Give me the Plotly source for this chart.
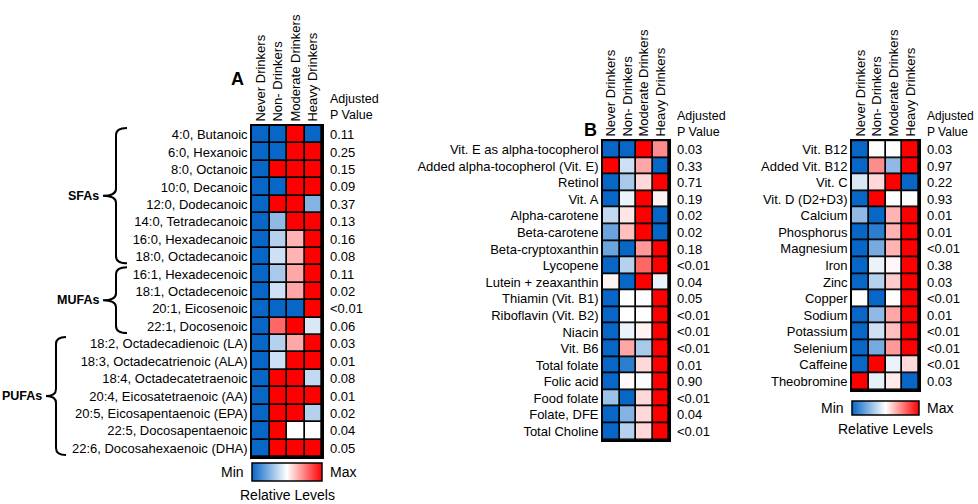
import plotly.graph_objects as go

W, H = 978, 504
FONT = "Arial, Liberation Sans, sans-serif"

groups = ["Never Drinkers", "Non- Drinkers", "Moderate Drinkers", "Heavy Drinkers"]

# ---- Panel A: fatty acids ----
fa_labels = ["4:0, Butanoic", "6:0, Hexanoic", "8:0, Octanoic", "10:0, Decanoic",
             "12:0, Dodecanoic", "14:0, Tetradecanoic", "16:0, Hexadecanoic",
             "18:0, Octadecanoic", "16:1, Hexadecenoic", "18:1, Octadecenoic",
             "20:1, Eicosenoic", "22:1, Docosenoic", "18:2, Octadecadienoic (LA)",
             "18:3, Octadecatrienoic (ALA)", "18:4, Octadecatetraenoic",
             "20:4, Eicosatetraenoic (AA)", "20:5, Eicosapentaenoic (EPA)",
             "22:5, Docosapentaenoic", "22:6, Docosahexaenoic (DHA)"]
fa_values = [
    [-1, -1, 1, -1], [-1, -1, 1, 1], [-1, 1, 1, 1], [-1, -1, 1, 1],
    [-1, 1, 1, -0.5], [-1, -0.45, 1, 1], [-1, -0.3, 0.3, 1], [-1, -0.2, 0.3, 1],
    [-1, -0.35, 0.35, 1], [-1, -0.2, 0.35, 1], [-1, -1, -1, 1], [-1, 0.6, 1, -0.15],
    [-1, -0.3, 0.35, 1], [-1, -0.2, 1, 1], [-1, 1, 1, -0.25], [-1, 1, 1, 1],
    [-1, 1, 1, -0.3], [-1, 1, 0, 0], [-1, 1, 1, 1]]
fa_pvals = ["0.11", "0.25", "0.15", "0.09", "0.37", "0.13", "0.16", "0.08", "0.11",
            "0.02", "<0.01", "0.06", "0.03", "0.01", "0.08", "0.01", "0.02", "0.04", "0.05"]
fa_groups = [("SFAs", 0, 7), ("MUFAs", 8, 11), ("PUFAs", 12, 18)]

# ---- Panel B left: vitamins ----
vit_labels = ["Vit. E as alpha-tocopherol", "Added alpha-tocopherol (Vit. E)", "Retinol",
              "Vit. A", "Alpha-carotene", "Beta-carotene", "Beta-cryptoxanthin", "Lycopene",
              "Lutein + zeaxanthin", "Thiamin (Vit. B1)", "Riboflavin (Vit. B2)", "Niacin",
              "Vit. B6", "Total folate", "Folic acid", "Food folate", "Folate, DFE",
              "Total Choline"]
vit_values = [
    [-1, -1, 1, 0.45], [1, -0.2, 0.35, -1], [-1, -0.35, 0.15, 1], [-1, -0.08, 1, 0.05],
    [-0.25, 0.1, 1, -1], [-0.6, 0.25, 1, -1], [-0.6, -1, 0.4, 1], [-1, -0.3, 0.6, 1],
    [0.05, -1, 1, -0.08], [-1, 0, 0, 1], [-1, 0, 0, 1], [-1, -0.08, 0.05, 1],
    [-1, 0.35, -0.35, 1], [-1, -0.85, 0.15, 1], [-1, 0.02, -0.02, 1], [-0.4, -1, 0.15, 1],
    [-1, -0.5, 0.15, 1], [-1, -0.3, 0.15, 1]]
vit_pvals = ["0.03", "0.33", "0.71", "0.19", "0.02", "0.02", "0.18", "<0.01", "0.04",
             "0.05", "<0.01", "<0.01", "<0.01", "0.01", "0.90", "<0.01", "0.04", "<0.01"]

# ---- Panel B right: other nutrients ----
oth_labels = ["Vit. B12", "Added Vit. B12", "Vit. C", "Vit. D (D2+D3)", "Calcium",
              "Phosphorus", "Magnesium", "Iron", "Zinc", "Copper", "Sodium", "Potassium",
              "Selenium", "Caffeine", "Theobromine"]
oth_values = [
    [-1, 0, 0, 1], [-1, 0.45, -0.45, 1], [-0.15, 0.15, 1, -1], [-1, 1, 0, 0],
    [-0.45, -1, 0.3, 1], [-1, -0.85, 0.3, 1], [-1, -0.55, 0.3, 1], [-1, -0.08, 0.03, 1],
    [-1, -0.3, 0.2, 1], [0, -1, 0, 1], [-1, -0.45, 0.35, 1], [-1, -0.2, 0.25, 1],
    [-1, -0.55, 0.4, 1], [-1, 1, -0.08, 0.15], [1, -0.1, 0.08, -1]]
oth_pvals = ["0.03", "0.97", "0.22", "0.93", "0.01", "0.01", "<0.01", "0.38", "0.03",
             "<0.01", "0.01", "<0.01", "<0.01", "<0.01", "0.03"]

COLORSCALE = [[0, "#0866C6"], [0.5, "#FFFFFF"], [1, "#FF0000"]]

# panel geometry in pixels (x0, x1, y0, y1)
PANELS = [
    dict(labels=fa_labels, values=fa_values, pvals=fa_pvals, box=(252, 322, 126, 457),
         cbar=dict(y=463, thick=18), ph_shift=3, ph_size=12.5),
    dict(labels=vit_labels, values=vit_values, pvals=vit_pvals, box=(603, 669, 141, 440),
         cbar=None, ph_shift=1, ph_size=12.5),
    dict(labels=oth_labels, values=oth_values, pvals=oth_pvals, box=(852, 919, 141, 390),
         cbar=dict(y=401, thick=14), ph_shift=1, ph_size=12),
]


def px(x):
    return x / W


def py(y):
    return 1 - y / H


def txt(x, y, text, size=13, xanchor="center", yanchor="middle"):
    return dict(x=px(x), y=py(y), xref="paper", yref="paper", text=text,
                xanchor=xanchor, yanchor=yanchor, showarrow=False, borderpad=0,
                font=dict(size=size, color="black", family=FONT))


fig = go.Figure()
annotations = []
shapes = []
for i, p in enumerate(PANELS, start=1):
    x0, x1, y0, y1 = p["box"]
    sfx = "" if i == 1 else str(i)
    cb = p["cbar"]
    trace = go.Heatmap(
        z=p["values"], x=groups, y=p["labels"], zmin=-1, zmax=1,
        colorscale=COLORSCALE, xgap=1.7, ygap=1.7,
        xaxis="x" + sfx, yaxis="y" + sfx, hoverinfo="skip",
        showscale=cb is not None)
    if cb is not None:
        trace.colorbar = dict(
            orientation="h", x=px(x0), xanchor="left", y=py(cb["y"]),
            yanchor="top", len=x1 - x0, lenmode="pixels", thickness=cb["thick"],
            thicknessmode="pixels", outlinecolor="black", outlinewidth=1.5,
            showticklabels=False, ticks="", xpad=0, ypad=0)
    fig.add_trace(trace)
    axis_common = dict(showline=True, mirror=True, linecolor="black", linewidth=1.7,
                       showgrid=False, zeroline=False, ticks="", fixedrange=True,
                       automargin=False)
    fig.update_layout(**{
        "xaxis" + sfx: dict(domain=[px(x0), px(x1)], anchor="y" + sfx, side="top",
                            tickangle=-90, tickfont=dict(size=13, color="black", family=FONT),
                            **axis_common),
        "yaxis" + sfx: dict(domain=[py(y1), py(y0)], anchor="x" + sfx, autorange="reversed",
                            tickfont=dict(size=13, color="black", family=FONT),
                            **axis_common),
    })
    # p values
    for lab, pv in zip(p["labels"], p["pvals"]):
        annotations.append(dict(
            x=1, xref="x" + sfx + " domain", xanchor="left", xshift=7, borderpad=0,
            y=lab, yref="y" + sfx, yanchor="middle", text=pv, showarrow=False,
            font=dict(size=13, color="black", family=FONT)))
    annotations.append(dict(
        x=1, xref="x" + sfx + " domain", xanchor="left", xshift=7, borderpad=0,
        y=1, yref="y" + sfx + " domain", yanchor="bottom", yshift=p["ph_shift"],
        text="Adjusted<br>P Value", align="left", showarrow=False,
        font=dict(size=p["ph_size"], color="black", family=FONT)))
    if cb is not None:
        cy = cb["y"] + cb["thick"] / 2
        annotations += [
            txt(x0 - 7, cy, "Min", 14, xanchor="right"),
            txt(x1 + 7, cy, "Max", 14, xanchor="left"),
            txt((x0 + x1) / 2, cb["y"] + cb["thick"] + 14, "Relative Levels", 14),
        ]

# braces for fatty-acid groups
ax0, ax1, ay0, ay1 = PANELS[0]["box"]
rowh = (ay1 - ay0) / len(fa_labels)
brace_x = {"SFAs": (127, 116, 103), "MUFAs": (127, 116, 103), "PUFAs": (66, 56, 46)}
for name, i0, i1 in fa_groups:
    xr, xm, xl = brace_x[name]
    yt = ay0 + i0 * rowh + 2
    yb = ay0 + (i1 + 1) * rowh - 2
    ym = (yt + yb) / 2
    r = 7
    path = (f"M {px(xr)},{py(yt)} Q {px(xm)},{py(yt)} {px(xm)},{py(yt + r)} "
            f"L {px(xm)},{py(ym - r)} Q {px(xm)},{py(ym)} {px(xl)},{py(ym)} "
            f"Q {px(xm)},{py(ym)} {px(xm)},{py(ym + r)} "
            f"L {px(xm)},{py(yb - r)} Q {px(xm)},{py(yb)} {px(xr)},{py(yb)}")
    shapes.append(dict(type="path", path=path, xref="paper", yref="paper",
                       line=dict(color="black", width=2)))
    annotations.append(txt(xl - 3, ym, "<b>" + name + "</b>", 12.5, xanchor="right"))

# panel letters
annotations += [
    txt(237, 79, "<b>A</b>", 18),
    txt(590, 130, "<b>B</b>", 18),
]

fig.update_layout(
    width=W, height=H, margin=dict(l=0, r=0, t=0, b=0, autoexpand=False),
    paper_bgcolor="white", plot_bgcolor="black",
    font=dict(family=FONT, color="black"),
    annotations=annotations, shapes=shapes, showlegend=False)

fig.write_html(
    "out.html",
    config={"displayModeBar": False},
    post_script="document.body.style.margin='0';document.body.style.padding='0';"
                "document.body.style.overflow='hidden';")
